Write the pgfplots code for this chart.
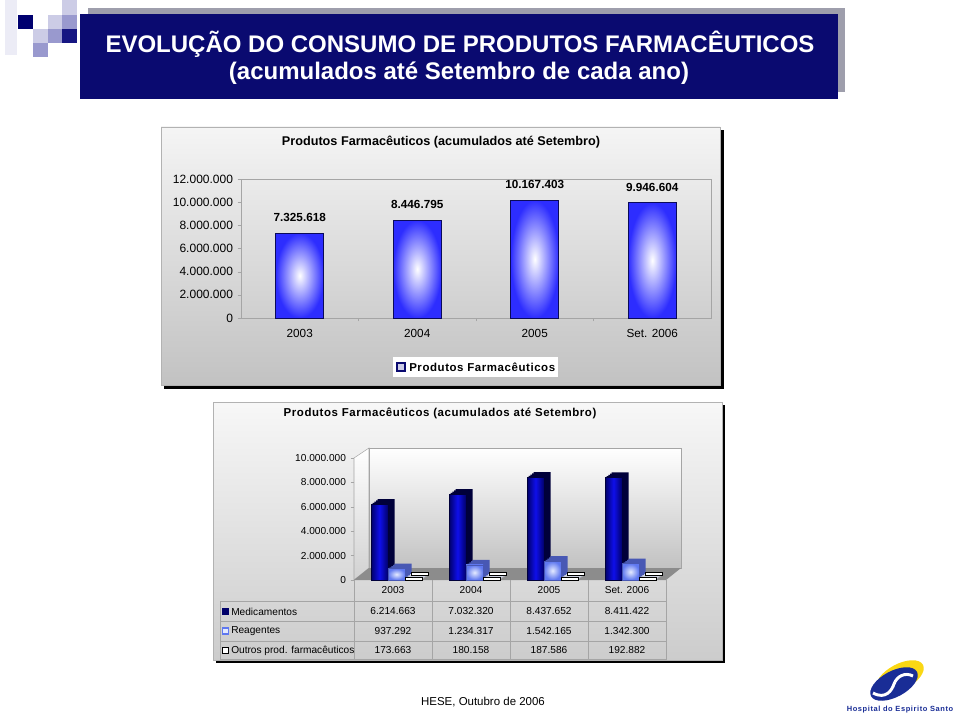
\documentclass[border=0pt]{standalone}
\usepackage{pgfplots}
\pgfplotsset{compat=1.18}
\usepackage{pgfplotstable}
\usepackage{fontspec}
\setmainfont{Liberation Sans}

\definecolor{titlenavy}{RGB}{10,10,112}
\definecolor{titleshadow}{RGB}{158,158,172}
\definecolor{lavA}{RGB}{236,236,246}
\definecolor{lavB}{RGB}{204,204,230}
\definecolor{lavC}{RGB}{153,153,206}
\definecolor{sqnavy}{RGB}{0,0,112}
\definecolor{sqnavyB}{RGB}{22,22,130}
\definecolor{barblue}{RGB}{45,45,255}
\definecolor{baredge}{RGB}{10,10,90}
\definecolor{medfront}{RGB}{0,0,105}
\definecolor{medmid}{RGB}{15,15,235}
\definecolor{medside}{RGB}{0,0,58}
\definecolor{reagout}{RGB}{95,120,240}
\definecolor{reagin}{RGB}{228,234,255}
\definecolor{reagside}{RGB}{72,88,180}
\definecolor{outside}{RGB}{205,210,225}
\definecolor{axgray}{RGB}{165,165,165}
\definecolor{floorgray}{RGB}{140,140,140}
\definecolor{logoblue}{RGB}{25,45,150}
\definecolor{logoyellow}{RGB}{250,215,20}

\pgfplotstableread{
x y
0.5 6214663
1.5 7032320
2.5 8437652
3.5 8411422
}\medtab
\pgfplotstableread{
x y
0.5 937292
1.5 1234317
2.5 1542165
3.5 1342300
}\reagtab
\pgfplotstableread{
x y
0.5 173663
1.5 180158
2.5 187586
3.5 192882
}\outtab

\pgfplotsset{
  bar3/.style={ybar, bar width=12.75pt, forget plot},
  topbar/.style={ybar, bar width=36pt, draw=baredge, line width=0.7pt,
    inner color=white, outer color=barblue,
    point meta=explicit symbolic, nodes near coords,
    nodes near coords style={font=\bfseries\fontsize{8.8}{10}\selectfont, inner sep=0pt, yshift=8pt, anchor=south, text=black}},
  medbar/.style={bar3, bar shift=-10.125pt, draw=medside, line width=0.5pt, left color=medfront, right color=medfront, middle color=medmid},
  reagbar/.style={bar3, bar shift=2.625pt, draw=reagside, line width=0.5pt, inner color=reagin, outer color=reagout},
}

\begin{document}
\begin{tikzpicture}[x=0.75pt,y=-0.75pt]
\useasboundingbox (0,0) rectangle (960,720);
\fill[white] (0,0) rectangle (960,720);

% decorative squares
\fill[lavA] (5,0) rectangle (17,55);
\fill[sqnavy] (18,15) rectangle (33,29);
\fill[lavB] (33,29) rectangle (48,43);
\fill[lavB] (48,15) rectangle (62,29);
\fill[lavC] (48,29) rectangle (62,43);
\fill[lavB] (62,0) rectangle (77,15);
\fill[lavC] (62,15) rectangle (77,29);
\fill[sqnavyB] (62,29) rectangle (77,43);
\fill[lavC] (33,43) rectangle (48,57);

% title box
\fill[titleshadow] (88,8) rectangle (845,92);
\fill[titlenavy] (80,14) rectangle (838,99);
\node[white, font=\bfseries\fontsize{18}{21}\selectfont] at (460,44) {EVOLUÇÃO DO CONSUMO DE PRODUTOS FARMACÊUTICOS};
\node[white, font=\bfseries\fontsize{18}{21}\selectfont] at (459,73) {(acumulados até Setembro de cada ano)};

% ===== chart 1 panel =====
\fill[black] (164,130) rectangle (724,389);
\shade[top color=white!96!black, bottom color=white!76!black] (161,127) rectangle (720,385);
\draw[white!70!black, line width=0.4pt] (161,127) rectangle (720,385);
\node[font=\bfseries\fontsize{9.5}{11}\selectfont] at (441,142) {Produtos Farmacêuticos (acumulados até Setembro)};

\begin{axis}[
  at={(180.75pt,-238.5pt)}, anchor=south west,
  scale only axis, width=352.5pt, height=104.25pt,
  xmin=-0.5, xmax=3.5, ymin=0, ymax=12000000,
  axis line style={axgray},
  tick style={axgray},
  tick align=outside, major tick length=2.5pt,
  tick pos=left,
  xtick={0.5,1.5,2.5}, xticklabels={},
  extra x ticks={0,1,2,3},
  extra x tick labels={2003,2004,2005,Set. 2006},
  extra x tick style={major tick length=0pt, xticklabel style={yshift=-5pt}},
  ytick={0,2000000,4000000,6000000,8000000,10000000,12000000},
  yticklabels={0,2.000.000,4.000.000,6.000.000,8.000.000,10.000.000,12.000.000},
  scaled y ticks=false,
  tick label style={font=\fontsize{9}{10}\selectfont},
  xticklabel style={font=\fontsize{8.8}{10}\selectfont},
]
\addplot[topbar] coordinates {(0,7325618)[7.325.618]};
\addplot[topbar] coordinates {(1,8446795)[8.446.795]};
\addplot[topbar] coordinates {(2,10167403)[10.167.403]};
\addplot[topbar] coordinates {(3,9946604)[9.946.604]};
\end{axis}

% legend chart 1
\fill[white] (393,357) rectangle (558,377);
\draw[titlenavy, fill=lavB, line width=0.9pt] (397,363) rectangle (405,371);
\node[anchor=west, inner sep=0pt, font=\bfseries\fontsize{8.6}{10}\selectfont\addfontfeatures{LetterSpace=5}] at (409,367.5) {Produtos Farmacêuticos};

% ===== chart 2 panel =====
\fill[black] (216,405) rectangle (725,663);
\shade[top color=white!97!black, bottom color=white!80!black] (213,402) rectangle (722,660);
\draw[white!70!black, line width=0.4pt] (213,402) rectangle (722,660);
\node[font=\bfseries\fontsize{8.6}{10}\selectfont\addfontfeatures{LetterSpace=5}] at (440,413) {Produtos Farmacêuticos (acumulados até Setembro)};

\begin{axis}[
  at={(265.5pt,-435pt)}, anchor=south west,
  scale only axis, width=234pt, height=91.5pt,
  xmin=0, xmax=4, ymin=0, ymax=10000000,
  clip=false,
  axis x line=none, axis y line*=left,
  y axis line style={draw=none},
  tick style={axgray},
  tick align=outside, major tick length=2.5pt,
  ytick={0,2000000,4000000,6000000,8000000,10000000},
  yticklabels={0,2.000.000,4.000.000,6.000.000,8.000.000,10.000.000},
  scaled y ticks=false,
  yticklabel style={font=\fontsize{7.6}{9}\selectfont},
]
% walls
\shade[top color=white, bottom color=white!82!black, draw=axgray, line width=0.4pt]
  (axis cs:0,0) -- (axis cs:0,10000000) -- ([shift={(11.25pt,7.5pt)}]axis cs:0,10000000) -- ([shift={(11.25pt,9pt)}]axis cs:0,0) -- cycle;
\shade[top color=white, bottom color=white!76!black, draw=axgray, line width=0.4pt]
  ([shift={(11.25pt,9pt)}]axis cs:0,0) rectangle ([shift={(11.25pt,7.5pt)}]axis cs:4,10000000);
\fill[floorgray]
  (axis cs:0,0) -- ([shift={(11.25pt,9pt)}]axis cs:0,0) -- ([shift={(11.25pt,9pt)}]axis cs:4,0) -- (axis cs:4,0) -- cycle;

% Medicamentos (depth, then faces)
\addplot[bar3, bar shift=-10.125pt, draw=none, fill=medside, xshift=1.25pt, yshift=0.94pt] table[x=x,y=y] {\medtab};
\addplot[bar3, bar shift=-10.125pt, draw=none, fill=medside, xshift=2.5pt, yshift=1.88pt] table[x=x,y=y] {\medtab};
\addplot[bar3, bar shift=-10.125pt, draw=none, fill=medside, xshift=3.75pt, yshift=2.81pt] table[x=x,y=y] {\medtab};
\addplot[bar3, bar shift=-10.125pt, draw=none, fill=medside, xshift=5pt, yshift=3.75pt] table[x=x,y=y] {\medtab};
\addplot[medbar] coordinates {(0.5,6214663)};
\addplot[medbar] coordinates {(1.5,7032320)};
\addplot[medbar] coordinates {(2.5,8437652)};
\addplot[medbar] coordinates {(3.5,8411422)};
% Reagentes
\addplot[bar3, bar shift=2.625pt, draw=none, fill=reagside, xshift=1.25pt, yshift=0.94pt] table[x=x,y=y] {\reagtab};
\addplot[bar3, bar shift=2.625pt, draw=none, fill=reagside, xshift=2.5pt, yshift=1.88pt] table[x=x,y=y] {\reagtab};
\addplot[bar3, bar shift=2.625pt, draw=none, fill=reagside, xshift=3.75pt, yshift=2.81pt] table[x=x,y=y] {\reagtab};
\addplot[bar3, bar shift=2.625pt, draw=none, fill=reagside, xshift=5pt, yshift=3.75pt] table[x=x,y=y] {\reagtab};
\addplot[reagbar] coordinates {(0.5,937292)};
\addplot[reagbar] coordinates {(1.5,1234317)};
\addplot[reagbar] coordinates {(2.5,1542165)};
\addplot[reagbar] coordinates {(3.5,1342300)};
% Outros
\addplot[bar3, bar shift=15.375pt, draw=none, fill=outside, xshift=1.25pt, yshift=0.94pt] table[x=x,y=y] {\outtab};
\addplot[bar3, bar shift=15.375pt, draw=none, fill=outside, xshift=2.5pt, yshift=1.88pt] table[x=x,y=y] {\outtab};
\addplot[bar3, bar shift=15.375pt, draw=none, fill=outside, xshift=3.75pt, yshift=2.81pt] table[x=x,y=y] {\outtab};
\addplot[bar3, bar shift=15.375pt, draw=black, line width=0.6pt, fill=white, xshift=5pt, yshift=3.75pt] table[x=x,y=y] {\outtab};
\addplot[bar3, bar shift=15.375pt, draw=black, line width=0.6pt, fill=white] table[x=x,y=y] {\outtab};
\end{axis}

% data table chart 2
\begin{scope}[axgray, line width=0.5pt]
\draw (354,580) -- (354,660);
\draw (432,580) -- (432,660);
\draw (510,580) -- (510,660);
\draw (588,580) -- (588,660);
\draw (666,580) -- (666,660);
\draw (220,601) -- (666,601);
\draw (220,621) -- (666,621);
\draw (220,641) -- (666,641);
\draw (220,659) -- (666,659);
\draw (220,601) -- (220,659);
\end{scope}
\begin{scope}[font=\fontsize{7.6}{9}\selectfont]
\node at (393,590.5) {2003};
\node at (471,590.5) {2004};
\node at (549,590.5) {2005};
\node at (627,590.5) {Set. 2006};
\fill[medfront] (222,607.5) rectangle (229,614.5);
\draw[reagout, fill=reagin, line width=1pt] (222.5,628) rectangle (228.5,634);
\draw[black, fill=white, line width=0.7pt] (222.5,647) rectangle (228.5,653);
\node[anchor=west, inner sep=0pt] at (231,611.5) {Medicamentos};
\node[anchor=west, inner sep=0pt] at (231,631) {Reagentes};
\node[anchor=west, inner sep=0pt] at (231,650.5) {Outros prod. farmacêuticos};
\node at (393,611.5) {6.214.663};
\node at (471,611.5) {7.032.320};
\node at (549,611.5) {8.437.652};
\node at (627,611.5) {8.411.422};
\node at (393,631) {937.292};
\node at (471,631) {1.234.317};
\node at (549,631) {1.542.165};
\node at (627,631) {1.342.300};
\node at (393,650.5) {173.663};
\node at (471,650.5) {180.158};
\node at (549,650.5) {187.586};
\node at (627,650.5) {192.882};
\end{scope}

% footer
\node[font=\fontsize{8.6}{10}\selectfont] at (483,702) {HESE, Outubro de 2006};

% logo
\fill[logoyellow, rotate around={28:(900,677)}] (900,677) ellipse (26 and 13);
\fill[logoblue, rotate around={28:(894,684)}] (894,684) ellipse (26 and 13);
\draw[white, line width=2.2pt] (873,693) .. controls (886,700) and (892,690) .. (894,684) .. controls (897,676) and (905,672) .. (913,676);
\node[text=logoblue, font=\bfseries\fontsize{5.6}{7}\selectfont\addfontfeatures{LetterSpace=8}] at (900,710) {Hospital do Espirito Santo};
\end{tikzpicture}
\end{document}
